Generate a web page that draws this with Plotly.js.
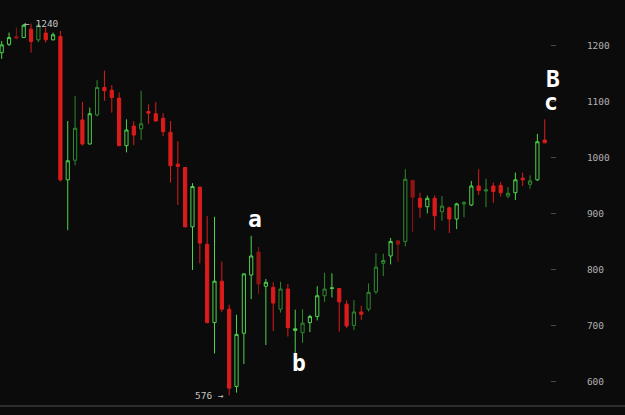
<!DOCTYPE html>
<html>
<head>
<meta charset="utf-8">
<script src="https://cdn.plot.ly/plotly-3.0.1.min.js"></script>
<style>html,body{margin:0;padding:0;background:#0b0b0b;}#chart{width:625px;height:415px;}</style>
</head>
<body>
<div id="chart"></div>
<script>
// Candle index (time order)
const idx = Array.from({length: 75}, (_, i) => i);
const openV  = [1188,1203,1217,1215,1230,1211,1223,1211,1217,961,996,1068,1025,1077,1126,1121,1107,1022,1057,1052,1083,1079,1071,1046,989,983,877,948,846,706,780,730,592,687,791,832,771,769,730,766,692,688,706,717,754,767,767,739,701,725,730,761,812,825,852,851,960,928,913,928,904,911,891,918,916,950,941,950,951,932,938,964,953,961,1032];
const highV  = [1209,1224,1233,1239,1240,1239,1233,1224,1227,1066,1111,1100,1090,1139,1156,1130,1117,1069,1066,1120,1096,1100,1080,1066,1030,984,955,948,896,895,815,738,720,794,861,841,784,778,779,775,729,730,720,771,795,794,768,746,746,736,776,830,829,857,852,980,961,938,933,933,932,913,920,923,959,980,963,956,957,948,974,974,969,1043,1069];
const lowV   = [1177,1200,1212,1215,1188,1207,1206,1210,958,871,987,1022,1024,1074,1102,1081,1021,1010,1023,1032,1061,1065,1039,956,916,876,800,812,705,651,725,576,581,632,748,757,666,691,724,681,652,670,689,710,743,751,690,696,693,711,726,757,789,810,815,842,868,893,901,871,888,866,873,894,914,934,912,920,931,928,925,950,945,959,1027];
const closeV = [1202,1215,1214,1237,1208,1237,1211,1220,961,995,1053,1025,1079,1126,1120,1108,1022,1050,1041,1061,1080,1066,1047,986,985,877,949,848,706,780,730,589,685,793,825,775,778,741,766,697,695,705,717,754,766,768,743,700,725,721,760,805,817,851,846,962,930,912,928,897,914,891,918,920,950,942,943,940,938,937,961,961,959,1029,1027];
// shade of each candle: b = bright, d = dark
const shade  = "bbdbbdbbbbdbbdbbbbbdbbbbbbbbbbbbbbbdbbdbbdbbdbbbdbdddbdddbbbdbbdbbdbbdbbdbb".split("");

const yTicks = [600,700,800,900,1000,1100,1200];
const waveLabels = ["a","b","B","c"];
const extremeLabels = ["\u2190 1240", "576 \u2192"];

const BG = '#0b0b0b';
function subset(s){
  const o={x:[],open:[],high:[],low:[],close:[]};
  idx.forEach(i=>{ if(shade[i]===s){o.x.push(i);o.open.push(openV[i]);o.high.push(highV[i]);o.low.push(lowV[i]);o.close.push(closeV[i]);} });
  return o;
}
function trace(s, up, down){
  const d=subset(s);
  return {type:'candlestick', x:d.x, open:d.open, high:d.high, low:d.low, close:d.close,
    increasing:{line:{color:up,width:1},fillcolor:BG},
    decreasing:{line:{color:down,width:1},fillcolor:down},
    whiskerwidth:0, hoverinfo:'skip', showlegend:false};
}
const data=[trace('b','#4fd44f','#dc1c1c'), trace('d','#2f8a2f','#8e1515')];

const labFont={family:'DejaVu Sans Mono', size:23, color:'#ffffff', weight:'bold'};
const smallFont={family:'DejaVu Sans Mono', size:9.5, color:'#c4c4c4'};
const annotations=[
  {x:34.52,y:891,text:waveLabels[0]},
  {x:40.45,y:634,text:waveLabels[1]},
  {x:74,xshift:8,y:1141,text:waveLabels[2]},
  {x:74,xshift:6,y:1100,text:waveLabels[3]}
].map(a=>Object.assign(a,{xref:'x',yref:'y',showarrow:false,font:labFont,xanchor:'center',yanchor:'middle'}));
annotations.push({x:3.17,xshift:-3,y:highV[4],xref:'x',yref:'y',text:extremeLabels[0],showarrow:false,font:smallFont,xanchor:'left',yanchor:'middle'});
annotations.push({x:30.57,y:lowV[31],xref:'x',yref:'y',text:extremeLabels[1],showarrow:false,font:smallFont,xanchor:'right',yanchor:'middle'});

const layout={
  width:625,height:415,
  paper_bgcolor:BG,plot_bgcolor:BG,
  margin:{l:0,r:75,t:0,b:9},
  boxgap:0.38,
  showlegend:false,
  xaxis:{range:[-0.232,74.72],showgrid:false,zeroline:false,showticklabels:false,ticks:'',
    rangeslider:{visible:false},fixedrange:true},
  yaxis:{side:'right',range:[557.1,1282.1],tickvals:yTicks,ticktext:yTicks.map(String),
    showgrid:false,zeroline:false,showline:false,ticks:'outside',ticklen:5,tickwidth:1,tickcolor:'#4a4a4a',
    ticklabelstandoff:29,tickfont:{family:'DejaVu Sans Mono',size:9.5,color:'#b0b0b0'},fixedrange:true},
  shapes:[{type:'line',xref:'paper',yref:'paper',x0:0,x1:1.14,y0:0,y1:0,line:{color:'#3a3a3a',width:1.5}}],
  annotations:annotations
};
Plotly.newPlot('chart',data,layout,{staticPlot:true,displayModeBar:false});
</script>
</body>
</html>
